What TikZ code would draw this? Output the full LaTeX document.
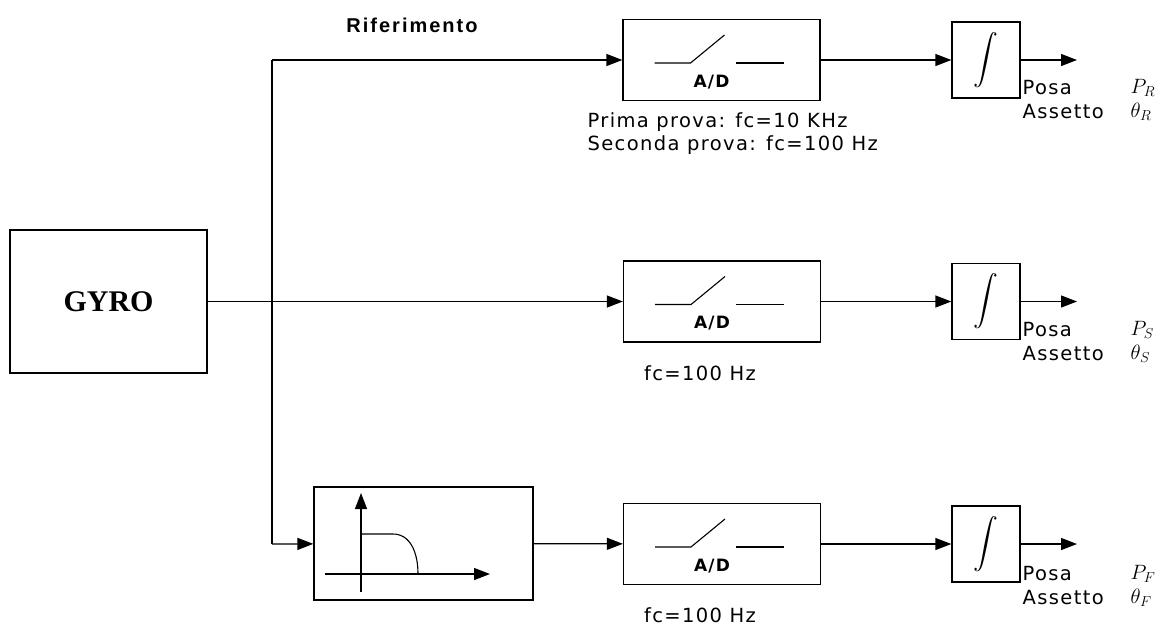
\documentclass[tikz,border=0pt]{standalone}
\usepackage{amsmath}
\usepackage{fontspec}
\usetikzlibrary{arrows.meta,positioning}
\newfontfamily\lblfont[LetterSpace=7]{DejaVu Sans}
\newfontfamily\titlefont[LetterSpace=10]{Liberation Sans}
\newfontfamily\gyrofont{Liberation Serif}

\begin{document}
\begin{tikzpicture}[x=1pt, y=-1pt, line width=1.3pt, >={Triangle[length=16pt,width=12pt]},
  blk/.style={draw, inner sep=0pt},
  adbox/.style={blk, minimum width=197pt, minimum height=81pt},
  intbox/.style={blk, minimum width=68pt, minimum height=76pt, font=\fontsize{28}{28}\selectfont},
  lbl/.style={inner sep=0pt, font=\lblfont\fontsize{19.5}{23.5}\selectfont},
  outlbl/.style={lbl, anchor=north west, align=left},
  sym/.style={inner sep=0pt, anchor=north west, align=left, font=\fontsize{20}{24}\selectfont}]

  \useasboundingbox (0,0) rectangle (1162,625);

  % Source
  \node[blk, minimum width=197pt, minimum height=143pt, font=\gyrofont\bfseries\fontsize{30}{30}\selectfont] (gyro) at (108.5,301.5) {GYRO};
  \node[inner sep=0pt, font=\titlefont\bfseries\fontsize{20}{20}\selectfont] (rif) at (412,25) {Riferimento};

  % Branches
  \node[adbox] (adR) at (721.5,60) {};
  \node[adbox] (adS) at (722,301.5) {};
  \node[adbox] (adF) at (722,544) {};
  \node[blk, minimum width=219pt, minimum height=113pt] (filt) at (423.5,543.5) {};

  \node[intbox] (intR) at (986,60) {$\displaystyle\int$};
  \node[intbox] (intS) at (986,301.5) {$\displaystyle\int$};
  \node[intbox] (intF) at (986,544) {$\displaystyle\int$};

  % Switch symbol in the A/D boxes
  \foreach \b in {adR,adS,adF} {
    \draw[line width=1.1pt] ([shift={(-67,3)}]\b.center) -- ++(36,0) -- ++(34,-28);
    \draw[line width=1.1pt] ([shift={(14,3)}]\b.center) -- ++(48,0);
    \node[inner sep=0pt, font=\lblfont\bfseries\fontsize{17}{17}\selectfont] (\b-lbl) at ([shift={(-10,22)}]\b.center) {A/D};
  }

  % Low-pass response
  \draw[->] (361,592) -- (361,493);
  \draw[->] (325,574) -- (490,574);
  \draw[line width=1.1pt] (361,534) -- (393,534) .. controls (410,534) and (418,552) .. (418,574);

  % Connections
  \coordinate (busR) at (272,60);
  \coordinate (busF) at (272,544);
  \draw[->] (gyro) -- (adS);
  \draw (busR) -- (busF);
  \draw[->] (busR) -- (adR);
  \draw[->] (busF) -- (filt);
  \draw[->] (filt) -- (adF);
  \draw[->] (adR) -- (intR);
  \draw[->] (adS) -- (intS);
  \draw[->] (adF) -- (intF);

  \coordinate (outR) at (1077,60);
  \coordinate (outS) at (1077,301.5);
  \coordinate (outF) at (1077,544);
  \draw[->] (intR) -- (outR);
  \draw[->] (intS) -- (outS);
  \draw[->] (intF) -- (outF);

  % Notes
  \node[lbl, anchor=west, align=left] (noteR) at (587,133.5) {Prima prova: fc=10 KHz\\Seconda prova: fc=100 Hz};
  \node[lbl] (noteS) at (700,373) {fc=100 Hz};
  \node[lbl] (noteF) at (700,615) {fc=100 Hz};

  % Outputs
  \node[outlbl] (posaR) at (1022,80) {Posa\\Assetto};
  \node[sym] (symR) at (1130,79) {$P_R$\\$\theta_R$};

  \node[outlbl] (posaS) at (1022,322) {Posa\\Assetto};
  \node[sym] (symS) at (1130,321) {$P_S$\\$\theta_S$};

  \node[outlbl] (posaF) at (1022,566) {Posa\\Assetto};
  \node[sym] (symF) at (1130,565) {$P_F$\\$\theta_F$};
\end{tikzpicture}
\end{document}
